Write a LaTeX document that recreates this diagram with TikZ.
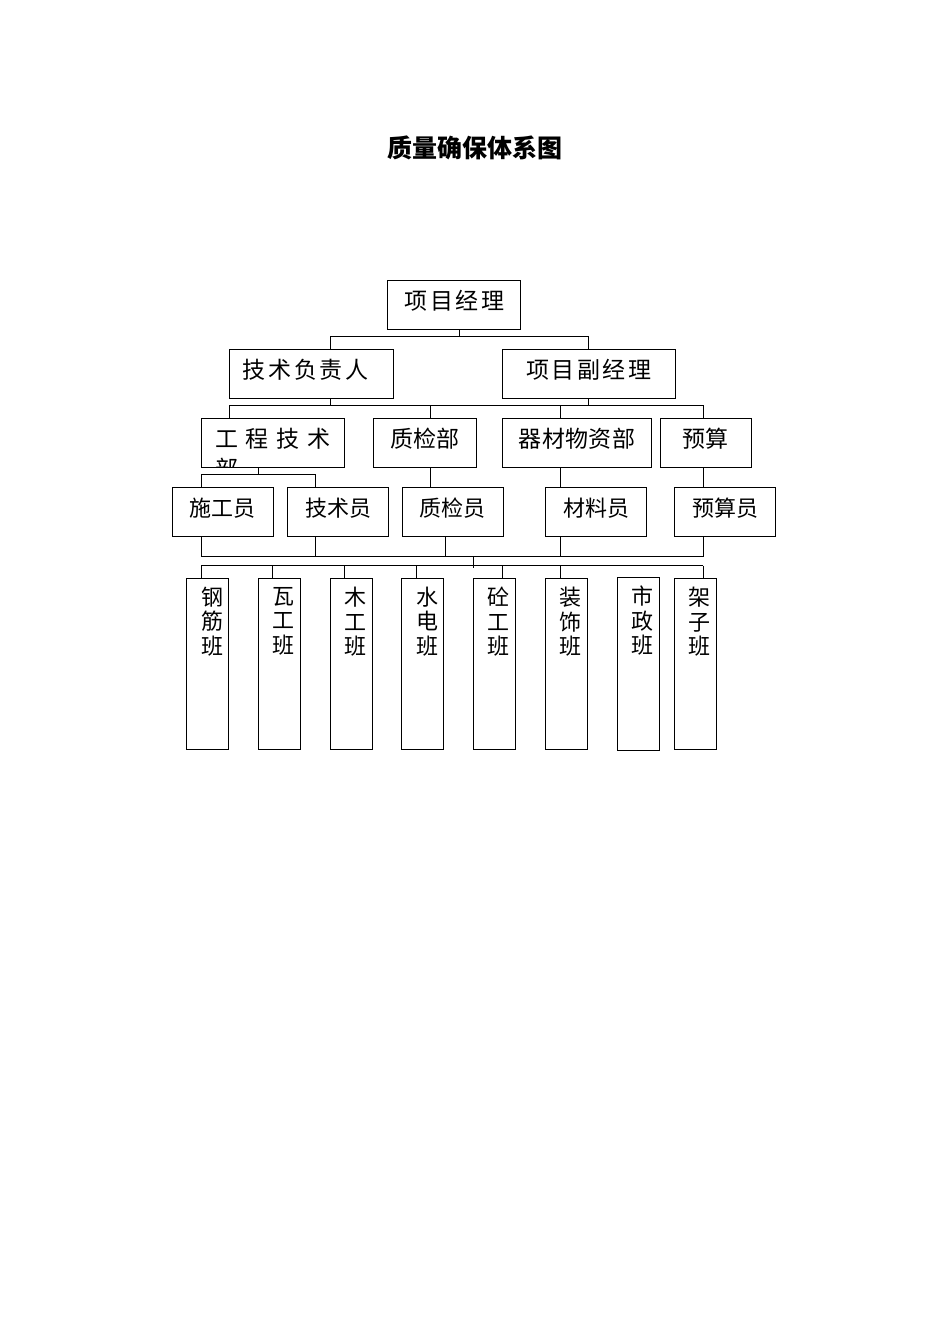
\documentclass[tikz,border=0pt]{standalone}
\usepackage{fontspec}
\setmainfont{Noto Sans CJK SC}
\newfontfamily\fontL[LetterSpace=11]{Noto Sans CJK SC}
\newfontfamily\fontM[LetterSpace=2]{Noto Sans CJK SC}
\newcommand{\bantext}[2]{\parbox[c][#1][t]{42pt}{\fontsize{22}{24.5}\selectfont\centering\leftskip=8.6pt plus 1fil\vspace*{9pt}#2}}
\begin{document}
\begin{tikzpicture}[x=1pt, y=-1pt,
  box/.style={draw, line width=1pt, inner sep=0pt, text height=17pt, text depth=7.6pt},
  ban/.style={draw, line width=1pt, inner sep=0pt}]
\useasboundingbox (0,0) rectangle (950,1344);
\node[font=\bfseries\fontsize{25}{25}\selectfont] (title) at (475,148) {质量确保体系图};
% top
\node[box, minimum width=133.3pt, minimum height=49.3pt, font=\fontL\fontsize{23}{24}\selectfont] (box0) at (454.3,304.7) {项目经理};
\node[box, minimum width=163.6pt, minimum height=48.7pt, font=\fontL\fontsize{23}{24}\selectfont] (box1) at (311.5,373.7) {技术负责人\kern12pt};
\node[box, minimum width=172.7pt, minimum height=48.7pt, font=\fontL\fontsize{23}{24}\selectfont] (box2) at (588.7,373.7) {项目副经理};
% departments
\node[box, minimum width=143pt, minimum height=49pt, font=\fontM\fontsize{23}{24}\selectfont] (box3) at (272.8,442.5) {\spaceskip=7.7pt\relax 工 程 技 术};
\node[box, minimum width=103.4pt, minimum height=49pt, font=\fontM\fontsize{23}{24}\selectfont] (box4) at (425,442.5) {质检部};
\node[box, minimum width=149.4pt, minimum height=49pt, font=\fontM\fontsize{23}{24}\selectfont] (box5) at (577,442.5) {器材物资部};
\node[box, minimum width=90.7pt, minimum height=49pt, font=\fontM\fontsize{23}{24}\selectfont] (box6) at (705.7,442.5) {预算};
\begin{scope}
\clip (box3.south west) rectangle (box3.north east);
\node[anchor=base west, inner sep=0pt, font=\fontM\fontsize{23}{24}\selectfont] (bu) at (215,477) {部};
\end{scope}
% staff
\node[box, minimum width=100.7pt, minimum height=49pt, font=\fontsize{22}{24}\selectfont] (box7) at (222.7,511.5) {施工员};
\node[box, minimum width=100.7pt, minimum height=49pt, font=\fontsize{22}{24}\selectfont] (box8) at (338,511.5) {技术员};
\node[box, minimum width=100.7pt, minimum height=49pt, font=\fontsize{22}{24}\selectfont] (box9) at (452.7,511.5) {质检员};
\node[box, minimum width=100.7pt, minimum height=49pt, font=\fontsize{22}{24}\selectfont] (box10) at (596.3,511.5) {材料员};
\node[box, minimum width=100.7pt, minimum height=49pt, font=\fontsize{22}{24}\selectfont] (box11) at (725,511.5) {预算员};
% teams
\node[ban] (ban0) at (207.7,663.7) {\bantext{171.3pt}{钢\\筋\\班}};
\node[ban] (ban1) at (279.2,663.7) {\bantext{171.3pt}{瓦\\工\\班}};
\node[ban] (ban2) at (351,663.7) {\bantext{171.3pt}{木\\工\\班}};
\node[ban] (ban3) at (422.9,663.7) {\bantext{171.3pt}{水\\电\\班}};
\node[ban] (ban4) at (494.3,663.7) {\bantext{171.3pt}{砼\\工\\班}};
\node[ban] (ban5) at (566.3,663.7) {\bantext{171.3pt}{装\\饰\\班}};
\node[ban] (ban6) at (638,664) {\bantext{173.4pt}{市\\政\\班}};
\node[ban] (ban7) at (695.5,663.7) {\bantext{171.3pt}{架\\子\\班}};
% level 1 to 2
\coordinate (j0) at (459.3,336.7);
\coordinate (j1) at (330,336.7);
\coordinate (j2) at (588.3,336.7);
\draw[line width=1pt] (box0.south -| j0) -- (j0);
\draw[line width=1pt] (box1.north -| j1) -- (j1) -- (j2) -- (box2.north -| j2);
% level 2 to 3
\coordinate (j3) at (229.7,405.3);
\coordinate (j4) at (703.7,405.3);
\coordinate (j5) at (430.3,405.3);
\coordinate (j6) at (560,405.3);
\draw[line width=1pt] (box1.south -| j1) -- (j1 |- j3);
\draw[line width=1pt] (box2.south -| j2) -- (j2 |- j3);
\draw[line width=1pt] (box3.north -| j3) -- (j3) -- (j4) -- (box6.north -| j4);
\draw[line width=1pt] (j5) -- (box4.north -| j5);
\draw[line width=1pt] (j6) -- (box5.north -| j6);
% level 3 to 4
\coordinate (j7) at (258.7,474);
\coordinate (j8) at (201.3,474);
\coordinate (j9) at (315.7,474);
\draw[line width=1pt] (box3.south -| j7) -- (j7);
\draw[line width=1pt] (box7.north -| j8) -- (j8) -- (j9) -- (box8.north -| j9);
\draw[line width=1pt] (box4.south -| j5) -- (box9.north -| j5);
\draw[line width=1pt] (box5.south -| j6) -- (box10.north -| j6);
\draw[line width=1pt] (box6.south -| j4) -- (box11.north -| j4);
% level 4 to teams
\coordinate (j10) at (201.3,556);
\coordinate (j11) at (703.7,556);
\coordinate (j12) at (445,556);
\draw[line width=1pt] (box7.south -| j10) -- (j10) -- (j11) -- (box11.south -| j11);
\draw[line width=1pt] (box8.south -| j9) -- (j9 |- j10);
\draw[line width=1pt] (box9.south -| j12) -- (j12);
\draw[line width=1pt] (box10.south -| j6) -- (j6 |- j10);
\coordinate (j13) at (473.5,556);
\coordinate (j14) at (473.5,568);
\draw[line width=1pt] (j13) -- (j14);
\coordinate (t0) at (201,565.7);
\coordinate (t1) at (272.7,565.7);
\coordinate (t2) at (344.3,565.7);
\coordinate (t3) at (416.7,565.7);
\coordinate (t4) at (502.7,565.7);
\coordinate (t5) at (560,565.7);
\coordinate (t7) at (703.3,565.7);
\draw[line width=1pt] (t0) -- (t7);
\draw[line width=1pt] (t0) -- (ban0.north -| t0);
\draw[line width=1pt] (t1) -- (ban1.north -| t1);
\draw[line width=1pt] (t2) -- (ban2.north -| t2);
\draw[line width=1pt] (t3) -- (ban3.north -| t3);
\draw[line width=1pt] (t4) -- (ban4.north -| t4);
\draw[line width=1pt] (t5) -- (ban5.north -| t5);
\draw[line width=1pt] (t7) -- (ban7.north -| t7);
\end{tikzpicture}
\end{document}
